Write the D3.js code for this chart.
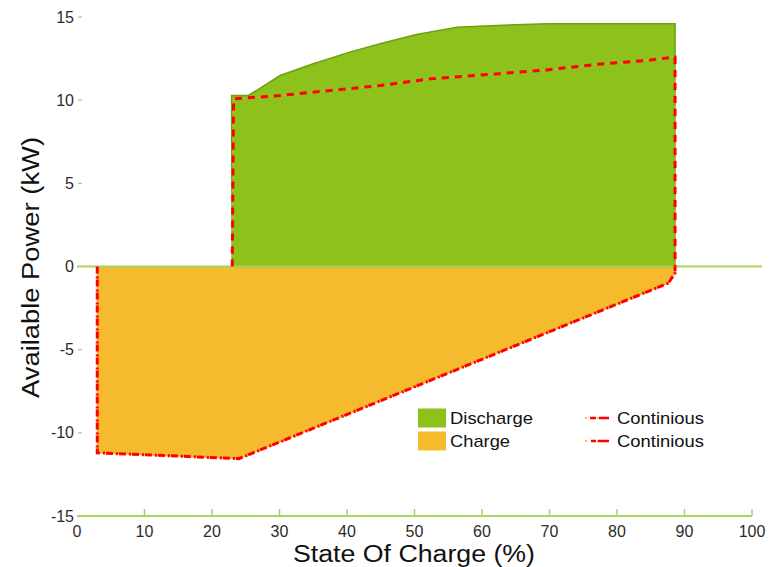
<!DOCTYPE html>
<html>
<head>
<meta charset="utf-8">
<script src="https://cdn.jsdelivr.net/npm/d3@7/dist/d3.min.js"></script>
<style>
  html, body { margin: 0; padding: 0; background: #fff; }
  svg { display: block; font-family: "Liberation Sans", Arial, sans-serif; }
</style>
</head>
<body>
<svg id="chart" width="783" height="567"></svg>
<script>
// Available discharge power envelope (SOC %, kW)
const dischargeSoc   = [23.0, 22.9, 25.4, 30.1, 35.0, 40.4, 44.9, 50.3, 56.3, 62.2, 69.6, 88.6, 88.6];
const dischargePower = [0,    10.28, 10.28, 11.48, 12.19, 12.89, 13.39, 13.95, 14.39, 14.49, 14.59, 14.59, 0];

// Continuous discharge limit
const contDisSoc   = [23.0, 23.2, 30.1, 37.5, 44.9, 52.3, 62.2, 69.6, 77.0, 84.4, 88.6, 88.6];
const contDisPower = [0,    10.08, 10.28, 10.58, 10.88, 11.28, 11.58, 11.82, 12.15, 12.39, 12.59, 0];

// Available charge power envelope (negative = charging)
const chargeSoc   = [3.0, 3.0,   24.0,  87.6, 88.6, 88.6];
const chargePower = [0,  -11.2, -11.55, -1.0, -0.4, 0];

// Continuous charge limit
const contChgSoc   = [3.0, 3.0,   24.0,  87.6, 88.6, 88.6];
const contChgPower = [0,  -11.2, -11.55, -1.0, -0.4, 0];

const xTicks = [0, 10, 20, 30, 40, 50, 60, 70, 80, 90, 100];
const yTicks = [-15, -10, -5, 0, 5, 10, 15];

const legendItems = ["Discharge", "Charge"];
const legendLines = ["Continious", "Continious"];

const GREEN = "#8cc21b", GREEN_EDGE = "#6f9e12", ORANGE = "#f5ba2e";
const AXIS = "#a9d35e", RED = "#ff0000", DOT = "#f5a623";

const svg = d3.select("#chart");
const x = d3.scaleLinear().domain([0, 100]).range([77, 752]);
const y = d3.scaleLinear().domain([-15, 15]).range([516, 17]);

const pts = (xs, ys) => xs.map((v, i) => [v, ys[i]]);
const line = d3.line().x(d => x(d[0])).y(d => y(d[1]));

// filled envelopes
svg.append("path")
  .attr("d", line(pts(chargeSoc, chargePower)) + "Z")
  .attr("fill", ORANGE).attr("stroke", "#f3a91d").attr("stroke-width", 1);
svg.append("path")
  .attr("d", line(pts(dischargeSoc, dischargePower)) + "Z")
  .attr("fill", GREEN).attr("stroke", GREEN_EDGE).attr("stroke-width", 1.5);

// zero line
svg.append("line")
  .attr("x1", x(0)).attr("x2", 762).attr("y1", y(0)).attr("y2", y(0))
  .attr("stroke", AXIS).attr("stroke-width", 2);

// continuous limits: red dashes with small orange dots in the gaps
function limitLine(data, redDash) {
  const d = line(data);
  svg.append("path").attr("d", d).attr("fill", "none")
    .attr("stroke", DOT).attr("stroke-width", 1.5)
    .attr("stroke-dasharray", "2,11").attr("stroke-dashoffset", 3.5);
  svg.append("path").attr("d", d).attr("fill", "none")
    .attr("stroke", RED).attr("stroke-width", 3)
    .attr("stroke-dasharray", redDash);
}
limitLine(pts(contDisSoc, contDisPower), "7,6");
limitLine(pts(contChgSoc, contChgPower), "7,3,2,1");

// x axis
const xAxis = svg.append("g").attr("transform", `translate(0,${y(-15)})`);
xAxis.append("line").attr("x1", x(0)).attr("x2", x(100))
  .attr("stroke", AXIS).attr("stroke-width", 2);
xAxis.selectAll("line.tick").data(xTicks.filter(t => t > 0)).join("line")
  .attr("class", "tick")
  .attr("x1", d => x(d)).attr("x2", d => x(d)).attr("y1", 0).attr("y2", -7)
  .attr("stroke", AXIS).attr("stroke-width", 1.5);
xAxis.selectAll("text").data(xTicks).join("text")
  .attr("x", d => x(d)).attr("y", 21)
  .attr("text-anchor", "middle").attr("font-size", 16).attr("fill", "#2b2b2b")
  .text(d => d);

// y axis (labels with short tick marks, no spine)
const yAxis = svg.append("g");
yAxis.selectAll("line").data(yTicks.filter(t => t > -15)).join("line")
  .attr("x1", 78).attr("x2", 82).attr("y1", d => y(d)).attr("y2", d => y(d))
  .attr("stroke", AXIS).attr("stroke-width", 1.2);
yAxis.selectAll("text").data(yTicks).join("text")
  .attr("x", 74).attr("y", d => y(d)).attr("dy", "0.35em")
  .attr("text-anchor", "end").attr("font-size", 16).attr("fill", "#2b2b2b")
  .text(d => d);

// axis titles (slightly wide lettering)
svg.append("text").attr("x", 293).attr("y", 562)
  .attr("font-size", 23.5).attr("fill", "#111")
  .attr("textLength", 242).attr("lengthAdjust", "spacingAndGlyphs")
  .text("State Of Charge (%)");
svg.append("text")
  .attr("transform", `translate(39,398) rotate(-90)`)
  .attr("font-size", 23.5).attr("fill", "#111")
  .attr("textLength", 261).attr("lengthAdjust", "spacingAndGlyphs")
  .text("Available Power (kW)");

// legend
const lg = svg.append("g");
const rowY = [418, 441];
const fills = [GREEN, ORANGE];
const itemWidths = [83, 60];
legendItems.forEach((name, i) => {
  lg.append("rect").attr("x", 418).attr("y", rowY[i] - 9.5).attr("width", 28).attr("height", 19)
    .attr("fill", fills[i]);
  lg.append("text").attr("x", 450).attr("y", rowY[i]).attr("dy", "0.35em")
    .attr("font-size", 17).attr("fill", "#111")
    .attr("textLength", itemWidths[i]).attr("lengthAdjust", "spacingAndGlyphs")
    .text(name);
});
legendLines.forEach((name, i) => {
  const seg = [[0, 0], [24, 0]];
  const g = lg.append("g").attr("transform", `translate(585,${rowY[i]})`);
  g.append("path").attr("d", d3.line()(seg)).attr("stroke", DOT).attr("stroke-width", 1.5)
    .attr("stroke-dasharray", "2,4").attr("fill", "none");
  g.append("path").attr("d", d3.line()(seg)).attr("stroke", RED).attr("stroke-width", 2.5)
    .attr("stroke-dasharray", i === 0 ? "0,5,6,3,6" : "0,6,5,2,6").attr("fill", "none");
  lg.append("text").attr("x", 617).attr("y", rowY[i]).attr("dy", "0.35em")
    .attr("font-size", 17).attr("fill", "#111")
    .attr("textLength", 87).attr("lengthAdjust", "spacingAndGlyphs")
    .text(name);
});
</script>
</body>
</html>
